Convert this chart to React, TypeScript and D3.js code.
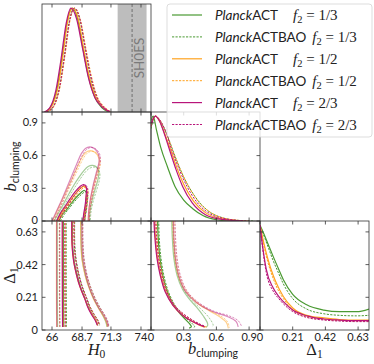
import * as d3 from 'd3'

type Pt = [number, number]

// legend / series info
const seriesNames = ['ACT', 'ACTBAO', 'ACT', 'ACTBAO', 'ACT', 'ACTBAO']
const seriesF2 = ['1/3', '1/3', '1/2', '1/2', '2/3', '2/3']
const seriesColors = ['#4a9a32', '#4a9a32', '#ffa21f', '#ffa21f', '#b8157a', '#b8157a']
const seriesDashed = [false, true, false, true, false, true]

const h0Ticks = [66, 68.7, 71.3, 74]
const h0TickLabels = ['66', '68.7', '71.3', '74']
const bTicks = [0, 0.3, 0.6, 0.9]
const bTickLabels = ['0', '0.3', '0.6', '0.9']
const d1Ticks = [0, 0.21, 0.42, 0.63]
const d1TickLabels = ['0', '0.21', '0.42', '0.63']

// SH0ES H0 = mean, sigma
const shoes = [73.2, 1.3]

// 1D marginals (value, normalised density)
const h0Dens: Pt[][] = [
  [[65.4,0],[65.9,0.05],[66.45,0.22],[66.9,0.52],[67.35,0.86],[67.8,1],[68.3,0.9],[68.8,0.6],[69.3,0.33],[69.9,0.13],[70.5,0.04],[71.1,0]],
  [[65.5,0],[66.1,0.05],[66.65,0.23],[67.1,0.53],[67.55,0.87],[68.0,1],[68.5,0.89],[69.0,0.6],[69.5,0.32],[70.05,0.13],[70.6,0.04],[71.2,0]],
  [[65.4,0],[65.95,0.05],[66.5,0.22],[66.95,0.52],[67.4,0.87],[67.85,1],[68.35,0.9],[68.85,0.61],[69.35,0.34],[69.95,0.14],[70.55,0.05],[71.2,0]],
  [[65.55,0],[66.15,0.05],[66.7,0.23],[67.15,0.53],[67.6,0.87],[68.05,1],[68.55,0.89],[69.05,0.61],[69.55,0.34],[70.1,0.14],[70.7,0.05],[71.3,0]],
  [[65.3,0],[65.8,0.04],[66.35,0.21],[66.8,0.5],[67.25,0.84],[67.7,1],[68.2,0.9],[68.75,0.61],[69.25,0.34],[69.85,0.14],[70.5,0.05],[71.2,0]],
  [[65.5,0],[66.1,0.05],[66.65,0.22],[67.1,0.52],[67.55,0.86],[68.0,1],[68.5,0.9],[69.0,0.61],[69.5,0.34],[70.05,0.14],[70.65,0.05],[71.3,0]],
]

const bDens: Pt[][] = [
  [[0,0.96],[0.02,1],[0.05,0.87],[0.09,0.7],[0.15,0.52],[0.22,0.33],[0.3,0.2],[0.38,0.12],[0.48,0.05],[0.6,0.012],[0.72,0]],
  [[0,0.88],[0.04,1],[0.08,0.96],[0.14,0.84],[0.22,0.62],[0.3,0.42],[0.4,0.24],[0.52,0.1],[0.66,0.03],[0.8,0.006],[0.95,0]],
  [[0,0.92],[0.04,1],[0.08,0.95],[0.12,0.85],[0.18,0.68],[0.24,0.5],[0.3,0.35],[0.39,0.19],[0.5,0.08],[0.65,0.02],[0.85,0]],
  [[0,0.9],[0.04,1],[0.09,0.95],[0.14,0.84],[0.2,0.67],[0.27,0.49],[0.34,0.34],[0.43,0.19],[0.55,0.08],[0.7,0.02],[0.9,0]],
  [[0,0.93],[0.04,1],[0.08,0.95],[0.12,0.84],[0.17,0.68],[0.23,0.49],[0.29,0.33],[0.38,0.17],[0.5,0.06],[0.65,0.015],[0.85,0]],
  [[0,0.9],[0.04,1],[0.09,0.95],[0.14,0.84],[0.19,0.68],[0.26,0.49],[0.33,0.33],[0.42,0.18],[0.54,0.07],[0.7,0.018],[0.9,0]],
]

const d1Dens: Pt[][] = [
  [[0,1],[0.03,0.9],[0.06,0.79],[0.085,0.7],[0.12,0.58],[0.15,0.48],[0.21,0.34],[0.3,0.24],[0.41,0.19],[0.51,0.175],[0.62,0.175],[0.7,0.2]],
  [[0,1],[0.03,0.88],[0.06,0.76],[0.085,0.66],[0.12,0.54],[0.15,0.44],[0.21,0.3],[0.3,0.2],[0.41,0.155],[0.51,0.14],[0.62,0.135],[0.7,0.14]],
  [[0,1],[0.02,0.86],[0.05,0.68],[0.085,0.52],[0.12,0.4],[0.15,0.32],[0.21,0.21],[0.3,0.14],[0.41,0.115],[0.51,0.1],[0.62,0.095],[0.7,0.095]],
  [[0,1],[0.02,0.84],[0.05,0.65],[0.085,0.49],[0.12,0.37],[0.15,0.3],[0.21,0.19],[0.3,0.125],[0.41,0.1],[0.51,0.09],[0.62,0.085],[0.7,0.085]],
  [[0,1],[0.015,0.82],[0.04,0.58],[0.085,0.4],[0.12,0.32],[0.15,0.27],[0.21,0.19],[0.3,0.135],[0.41,0.105],[0.51,0.095],[0.62,0.09],[0.7,0.09]],
  [[0,1],[0.015,0.8],[0.04,0.55],[0.085,0.37],[0.12,0.3],[0.15,0.25],[0.21,0.175],[0.3,0.12],[0.41,0.095],[0.51,0.085],[0.62,0.08],[0.7,0.08]],
]

// 2D contours, H0 vs b_clumping (68% / 95%)
const h0b68: Pt[][] = [
  [[66.6,0],[66.95,0.06],[67.35,0.11],[67.8,0.17],[68.2,0.22],[68.6,0.26],[68.92,0.28],[69.1,0.255],[69.06,0.18],[68.98,0.1],[68.88,0.04],[68.84,0]],
  [[66.75,0],[67.1,0.06],[67.5,0.11],[67.95,0.17],[68.35,0.215],[68.72,0.25],[69.02,0.27],[69.2,0.245],[69.17,0.17],[69.08,0.09],[68.98,0.035],[68.95,0]],
  [[66.5,0],[66.85,0.07],[67.25,0.13],[67.7,0.195],[68.15,0.255],[68.55,0.3],[68.9,0.32],[69.1,0.295],[69.08,0.22],[69.0,0.13],[68.88,0.05],[68.82,0]],
  [[66.65,0],[67.0,0.07],[67.4,0.13],[67.85,0.19],[68.3,0.25],[68.7,0.295],[69.02,0.31],[69.22,0.285],[69.2,0.21],[69.1,0.12],[68.98,0.05],[68.95,0]],
  [[66.42,0],[66.75,0.07],[67.15,0.13],[67.6,0.2],[68.05,0.265],[68.5,0.315],[68.85,0.335],[69.08,0.31],[69.06,0.23],[68.97,0.14],[68.84,0.06],[68.78,0]],
  [[66.6,0],[66.95,0.07],[67.35,0.13],[67.8,0.2],[68.25,0.265],[68.65,0.31],[69.0,0.33],[69.2,0.3],[69.17,0.22],[69.08,0.13],[68.97,0.05],[68.92,0]],
]

const h0b95: Pt[][] = [
  [[66.2,0],[66.65,0.085],[67.1,0.17],[67.55,0.255],[68.0,0.335],[68.45,0.405],[68.85,0.46],[69.25,0.5],[69.65,0.51],[70.0,0.495],[70.2,0.455],[70.15,0.39],[69.9,0.3],[69.6,0.19],[69.4,0.08],[69.35,0]],
  [[66.35,0],[66.8,0.085],[67.25,0.17],[67.7,0.25],[68.15,0.325],[68.6,0.395],[69.0,0.45],[69.4,0.485],[69.8,0.495],[70.12,0.48],[70.3,0.44],[70.25,0.37],[70.0,0.28],[69.7,0.18],[69.5,0.08],[69.45,0]],
  [[66.05,0],[66.5,0.1],[66.95,0.2],[67.4,0.3],[67.85,0.4],[68.3,0.5],[68.7,0.585],[69.05,0.63],[69.45,0.645],[69.85,0.63],[70.18,0.585],[70.25,0.53],[70.0,0.43],[69.7,0.31],[69.45,0.19],[69.3,0.08],[69.27,0]],
  [[66.2,0],[66.65,0.1],[67.1,0.2],[67.55,0.3],[68.0,0.4],[68.45,0.5],[68.85,0.58],[69.2,0.625],[69.6,0.64],[70.0,0.625],[70.3,0.58],[70.35,0.52],[70.1,0.42],[69.8,0.3],[69.55,0.18],[69.4,0.08],[69.37,0]],
  [[66.0,0],[66.45,0.1],[66.9,0.2],[67.35,0.31],[67.8,0.42],[68.25,0.53],[68.65,0.62],[69.0,0.665],[69.4,0.68],[69.8,0.665],[70.15,0.62],[70.25,0.56],[70.0,0.45],[69.7,0.33],[69.45,0.2],[69.3,0.09],[69.25,0]],
  [[66.15,0],[66.6,0.1],[67.05,0.2],[67.5,0.31],[67.95,0.42],[68.4,0.53],[68.8,0.615],[69.15,0.66],[69.55,0.675],[69.95,0.66],[70.28,0.615],[70.35,0.55],[70.1,0.44],[69.8,0.32],[69.55,0.19],[69.4,0.085],[69.37,0]],
]

// H0 vs Delta_1 (contours run off the top of the panel)
const h0d168: Pt[][] = [
  [[67.05,0.02],[67.03,0.2],[67.02,0.45],[67.02,0.8],[67.02,1],[67.85,1],[67.85,0.8],[67.85,0.55],[68.0,0.44],[68.28,0.35],[68.55,0.28],[68.98,0.2],[69.25,0.15],[69.62,0.1],[69.95,0.06],[70.1,0.03]],
  [[67.3,0.02],[67.28,0.2],[67.27,0.45],[67.27,0.8],[67.27,1],[68.05,1],[68.05,0.8],[68.05,0.55],[68.2,0.44],[68.45,0.35],[68.72,0.28],[69.15,0.2],[69.42,0.15],[69.8,0.1],[70.15,0.06],[70.3,0.03]],
  [[66.98,0.02],[66.96,0.2],[66.95,0.45],[66.95,0.8],[66.95,1],[67.8,1],[67.8,0.8],[67.8,0.55],[67.95,0.44],[68.22,0.35],[68.5,0.28],[68.95,0.2],[69.22,0.15],[69.6,0.1],[69.95,0.06],[70.12,0.03]],
  [[67.22,0.02],[67.2,0.2],[67.2,0.45],[67.2,0.8],[67.2,1],[68.0,1],[68.0,0.8],[68.0,0.55],[68.15,0.44],[68.42,0.35],[68.7,0.28],[69.12,0.2],[69.4,0.15],[69.78,0.1],[70.12,0.06],[70.28,0.03]],
  [[66.95,0.02],[66.93,0.2],[66.92,0.45],[66.92,0.8],[66.92,1],[67.78,1],[67.78,0.8],[67.8,0.55],[67.95,0.44],[68.22,0.35],[68.5,0.28],[68.95,0.2],[69.2,0.15],[69.55,0.1],[69.9,0.06],[70.08,0.03]],
  [[67.18,0.02],[67.16,0.2],[67.15,0.45],[67.15,0.8],[67.15,1],[67.98,1],[67.98,0.8],[68.0,0.55],[68.15,0.44],[68.42,0.35],[68.7,0.28],[69.12,0.2],[69.38,0.15],[69.75,0.1],[70.1,0.06],[70.25,0.03]],
]

const h0d195: Pt[][] = [
  [[66.5,0.02],[66.48,0.2],[66.47,0.5],[66.47,0.8],[66.47,1],[68.6,1],[68.6,0.8],[68.62,0.55],[68.72,0.45],[69.0,0.35],[69.3,0.28],[69.75,0.2],[70.2,0.14],[70.6,0.09],[70.85,0.05],[70.95,0.02]],
  [[66.72,0.02],[66.7,0.2],[66.7,0.5],[66.7,0.8],[66.7,1],[68.75,1],[68.75,0.8],[68.77,0.55],[68.88,0.45],[69.15,0.35],[69.45,0.28],[69.9,0.2],[70.35,0.14],[70.75,0.09],[71.0,0.05],[71.08,0.02]],
  [[66.42,0.02],[66.4,0.2],[66.4,0.5],[66.4,0.8],[66.4,1],[68.58,1],[68.58,0.8],[68.6,0.55],[68.7,0.45],[68.98,0.35],[69.28,0.28],[69.72,0.2],[70.18,0.14],[70.6,0.09],[70.88,0.05],[70.98,0.02]],
  [[66.68,0.02],[66.66,0.2],[66.65,0.5],[66.65,0.8],[66.65,1],[68.72,1],[68.72,0.8],[68.74,0.55],[68.85,0.45],[69.12,0.35],[69.42,0.28],[69.88,0.2],[70.33,0.14],[70.75,0.09],[71.0,0.05],[71.08,0.02]],
  [[66.43,0.02],[66.42,0.2],[66.42,0.5],[66.42,0.8],[66.42,1],[68.68,1],[68.68,0.8],[68.7,0.55],[68.79,0.45],[69.06,0.35],[69.33,0.28],[69.78,0.2],[70.23,0.14],[70.68,0.09],[70.95,0.05],[71.04,0.02]],
  [[66.7,0.02],[66.68,0.2],[66.68,0.5],[66.68,0.8],[66.68,1],[68.78,1],[68.78,0.8],[68.8,0.55],[68.9,0.45],[69.16,0.35],[69.45,0.28],[69.9,0.2],[70.35,0.14],[70.8,0.09],[71.05,0.05],[71.12,0.02]],
]

// b_clumping vs Delta_1 (open at b = 0)
const bd168: Pt[][] = [
  [[0.06,0.75],[0.065,0.6],[0.08,0.47],[0.105,0.36],[0.145,0.255],[0.2,0.17],[0.26,0.11],[0.32,0.065],[0.36,0.035],[0.37,0.02],[0.35,0.012]],
  [[0.07,0.75],[0.075,0.6],[0.09,0.47],[0.115,0.36],[0.155,0.255],[0.21,0.17],[0.27,0.11],[0.33,0.07],[0.38,0.04],[0.4,0.02],[0.385,0.012]],
  [[0.03,0.75],[0.04,0.6],[0.06,0.46],[0.09,0.35],[0.135,0.245],[0.2,0.16],[0.29,0.095],[0.38,0.055],[0.45,0.03],[0.5,0.018]],
  [[0.045,0.75],[0.055,0.6],[0.075,0.46],[0.105,0.35],[0.15,0.245],[0.215,0.16],[0.3,0.1],[0.39,0.058],[0.46,0.032],[0.51,0.02]],
  [[0.025,0.75],[0.035,0.6],[0.055,0.46],[0.085,0.35],[0.13,0.245],[0.2,0.16],[0.29,0.095],[0.38,0.055],[0.45,0.032],[0.49,0.02]],
  [[0.04,0.75],[0.05,0.6],[0.07,0.46],[0.1,0.35],[0.145,0.245],[0.215,0.16],[0.305,0.1],[0.39,0.06],[0.46,0.034],[0.5,0.022]],
]

const bd195: Pt[][] = [
  [[0.19,0.75],[0.195,0.6],[0.21,0.46],[0.24,0.35],[0.29,0.26],[0.35,0.2],[0.42,0.145],[0.48,0.09],[0.515,0.05],[0.52,0.03],[0.505,0.018]],
  [[0.2,0.75],[0.205,0.6],[0.22,0.46],[0.25,0.35],[0.3,0.26],[0.37,0.195],[0.45,0.14],[0.52,0.09],[0.56,0.05],[0.57,0.03],[0.56,0.02]],
  [[0.2,0.75],[0.205,0.6],[0.22,0.46],[0.25,0.35],[0.31,0.255],[0.41,0.18],[0.53,0.125],[0.63,0.085],[0.69,0.05],[0.71,0.01]],
  [[0.215,0.75],[0.22,0.6],[0.235,0.46],[0.265,0.35],[0.325,0.255],[0.42,0.18],[0.54,0.125],[0.64,0.09],[0.7,0.055],[0.72,0.015]],
  [[0.205,0.75],[0.21,0.6],[0.225,0.46],[0.255,0.35],[0.315,0.25],[0.42,0.175],[0.56,0.12],[0.7,0.087],[0.78,0.055],[0.8,0.02]],
  [[0.22,0.75],[0.225,0.6],[0.24,0.46],[0.27,0.35],[0.33,0.25],[0.44,0.175],[0.58,0.12],[0.72,0.09],[0.8,0.06],[0.83,0.025]],
]

const W = 374
const H = 364
const sans = "Lato, 'DejaVu Sans', sans-serif"
const serif = "'Liberation Serif', 'DejaVu Serif', serif"
const axisColor = '#333'

// column / row scales
const xH0 = d3.scaleLinear().domain([65.1, 74.9]).range([42, 151])
const xB = d3.scaleLinear().domain([0, 1.0]).range([151, 260])
const xD1 = d3.scaleLinear().domain([0, 0.7]).range([260, 369])
const yB = d3.scaleLinear().domain([0, 1.0]).range([221, 112])
const yD1 = d3.scaleLinear().domain([0, 0.7]).range([330, 221])
const yP1 = d3.scaleLinear().domain([0, 1.04]).range([112, 4])
const yP2 = d3.scaleLinear().domain([0, 1.04]).range([221, 112])
const yP3 = d3.scaleLinear().domain([0, 1.04]).range([330, 221])

type Scale = d3.ScaleLinear<number, number>

function Frame({ x, y, xt, yt }: { x: Scale; y: Scale; xt: number[]; yt: number[] }) {
  const [x0, x1] = x.range()
  const [y1, y0] = y.range()
  const tl = 3.5
  return (
    <g stroke={axisColor} strokeWidth={0.8} fill="none">
      <rect x={x0} y={y0} width={x1 - x0} height={y1 - y0} />
      {xt.map((t) => (
        <g key={'x' + t}>
          <line x1={x(t)} x2={x(t)} y1={y1} y2={y1 - tl} />
          <line x1={x(t)} x2={x(t)} y1={y0} y2={y0 + tl} />
        </g>
      ))}
      {yt.map((t) => (
        <g key={'y' + t}>
          <line x1={x0} x2={x0 + tl} y1={y(t)} y2={y(t)} />
          <line x1={x1} x2={x1 - tl} y1={y(t)} y2={y(t)} />
        </g>
      ))}
    </g>
  )
}

function Curves({ sets, x, y, clip, faint, smooth }: { sets: Pt[][]; x: Scale; y: Scale; clip: string; faint?: boolean; smooth?: boolean }) {
  const line = d3
    .line<Pt>()
    .x((d) => x(d[0]))
    .y((d) => y(d[1]))
    .curve(smooth ? d3.curveMonotoneX : d3.curveCatmullRom.alpha(0.5))
  return (
    <g clipPath={`url(#${clip})`}>
      {sets.map((pts, i) => (
        <path
          key={i}
          d={line(pts) || ''}
          fill="none"
          stroke={seriesColors[i]}
          strokeWidth={seriesDashed[i] ? 1 : 1.2}
          strokeDasharray={seriesDashed[i] ? '2.2,1.3' : undefined}
          strokeOpacity={faint ? 0.5 : 1}
        />
      ))}
    </g>
  )
}

function ClipRect({ id, x, y }: { id: string; x: Scale; y: Scale }) {
  const [x0, x1] = x.range()
  const [y1, y0] = y.range()
  return (
    <clipPath id={id}>
      <rect x={x0} y={y0} width={x1 - x0} height={y1 - y0} />
    </clipPath>
  )
}

export default function App() {
  const legendY = (i: number) => 15 + i * 21.9
  return (
    <svg width={W} height={H} style={{ position: 'absolute', left: 0, top: 0, background: '#fff' }}>
      <defs>
        <ClipRect id="p11" x={xH0} y={yP1} />
        <ClipRect id="p21" x={xH0} y={yB} />
        <ClipRect id="p22" x={xB} y={yP2} />
        <ClipRect id="p31" x={xH0} y={yD1} />
        <ClipRect id="p32" x={xB} y={yD1} />
        <ClipRect id="p33" x={xD1} y={yP3} />
      </defs>

      {/* H0 marginal with SH0ES band */}
      <rect x={xH0(shoes[0] - shoes[1])} y={4} width={xH0(shoes[0] + shoes[1]) - xH0(shoes[0] - shoes[1])} height={108} fill="#bdbdbd" />
      <line x1={xH0(shoes[0])} x2={xH0(shoes[0])} y1={4} y2={112} stroke="#6e6e6e" strokeWidth={1} strokeDasharray="3,2" />
      <text transform={`translate(143.5, 58) rotate(-90)`} textAnchor="middle" fontFamily={sans} fontSize={13.5} fill="#7a7a7a">
        SH0ES
      </text>
      <Curves sets={h0Dens} x={xH0} y={yP1} clip="p11" smooth />
      <Frame x={xH0} y={yP1} xt={h0Ticks} yt={[]} />

      {/* H0 vs b */}
      <Curves sets={h0b95} x={xH0} y={yB} clip="p21" faint />
      <Curves sets={h0b68} x={xH0} y={yB} clip="p21" />
      <Frame x={xH0} y={yB} xt={h0Ticks} yt={bTicks} />

      {/* b marginal */}
      <Curves sets={bDens} x={xB} y={yP2} clip="p22" smooth />
      <Frame x={xB} y={yB} xt={bTicks} yt={bTicks} />

      {/* H0 vs Delta1 */}
      <Curves sets={h0d195} x={xH0} y={yD1} clip="p31" faint />
      <Curves sets={h0d168} x={xH0} y={yD1} clip="p31" />
      <Frame x={xH0} y={yD1} xt={h0Ticks} yt={d1Ticks} />

      {/* b vs Delta1 */}
      <Curves sets={bd195} x={xB} y={yD1} clip="p32" faint />
      <Curves sets={bd168} x={xB} y={yD1} clip="p32" />
      <Frame x={xB} y={yD1} xt={bTicks} yt={d1Ticks} />

      {/* Delta1 marginal */}
      <Curves sets={d1Dens} x={xD1} y={yP3} clip="p33" smooth />
      <Frame x={xD1} y={yD1} xt={d1Ticks} yt={d1Ticks} />

      {/* tick labels */}
      <g fontFamily={sans} fontSize={11} fill="#222">
        {h0Ticks.map((t, i) => (
          <text key={'h' + t} x={xH0(t)} y={340.5} textAnchor="middle">{h0TickLabels[i]}</text>
        ))}
        {bTicks.map((t, i) => (
          <text key={'b' + t} x={xB(t)} y={340.5} textAnchor="middle">{bTickLabels[i]}</text>
        ))}
        {d1Ticks.map((t, i) => (
          <text key={'d' + t} x={xD1(t)} y={340.5} textAnchor="middle">{d1TickLabels[i]}</text>
        ))}
        {bTicks.map((t, i) => (
          <text key={'yb' + t} x={38} y={yB(t) + (t === 0 ? 2.5 : 3.5)} textAnchor="end">{bTickLabels[i]}</text>
        ))}
        {d1Ticks.map((t, i) => (
          <text key={'yd' + t} x={38} y={yD1(t) + 4} textAnchor="end">{d1TickLabels[i]}</text>
        ))}
      </g>

      {/* axis titles */}
      <text x={96.5} y={355} textAnchor="middle" fontFamily={serif} fontSize={16.5} fill="#222">
        <tspan fontStyle="italic">H</tspan>
        <tspan fontSize={11.5} dy={3}>0</tspan>
      </text>
      <text x={213} y={354} textAnchor="middle" fill="#222">
        <tspan fontFamily={serif} fontStyle="italic" fontSize={16.5}>b</tspan>
        <tspan fontFamily={sans} fontSize={10.5} dy={3}>clumping</tspan>
      </text>
      <text x={314.5} y={355} textAnchor="middle" fontFamily={serif} fontSize={16.5} fill="#222">
        <tspan>Δ</tspan>
        <tspan fontSize={11.5} dy={3}>1</tspan>
      </text>
      <text transform="translate(16, 166.5) rotate(-90)" textAnchor="middle" fill="#222">
        <tspan fontFamily={serif} fontStyle="italic" fontSize={16.5}>b</tspan>
        <tspan fontFamily={sans} fontSize={10.5} dy={3}>clumping</tspan>
      </text>
      <text transform="translate(14.5, 275.5) rotate(-90)" textAnchor="middle" fontFamily={serif} fontSize={16.5} fill="#222">
        <tspan>Δ</tspan>
        <tspan fontSize={11.5} dy={3}>1</tspan>
      </text>

      {/* legend */}
      <rect x={167} y={4} width={205} height={133} rx={3} fill="#fff" fillOpacity={0.8} stroke="#d4d4d4" strokeWidth={0.8} />
      {seriesNames.map((name, i) => (
        <g key={'lg' + i}>
          <line
            x1={172}
            x2={202}
            y1={legendY(i)}
            y2={legendY(i)}
            stroke={seriesColors[i]}
            strokeWidth={seriesDashed[i] ? 1 : 1.2}
            strokeDasharray={seriesDashed[i] ? '2.2,1.3' : undefined}
          />
          <text x={215} y={legendY(i) + 5} fontFamily={sans} fontSize={13.5} fill="#222">
            <tspan fontStyle="italic">Planck</tspan>
            <tspan>{name}</tspan>
            <tspan dx={name === 'ACT' ? 15 : 6} fontFamily={serif} fontStyle="italic" fontSize={15}>f</tspan>
            <tspan fontFamily={serif} fontSize={10.5} dy={3}>2</tspan>
            <tspan fontFamily={serif} fontSize={15} dy={-3}> = {seriesF2[i]}</tspan>
          </text>
        </g>
      ))}
    </svg>
  )
}
